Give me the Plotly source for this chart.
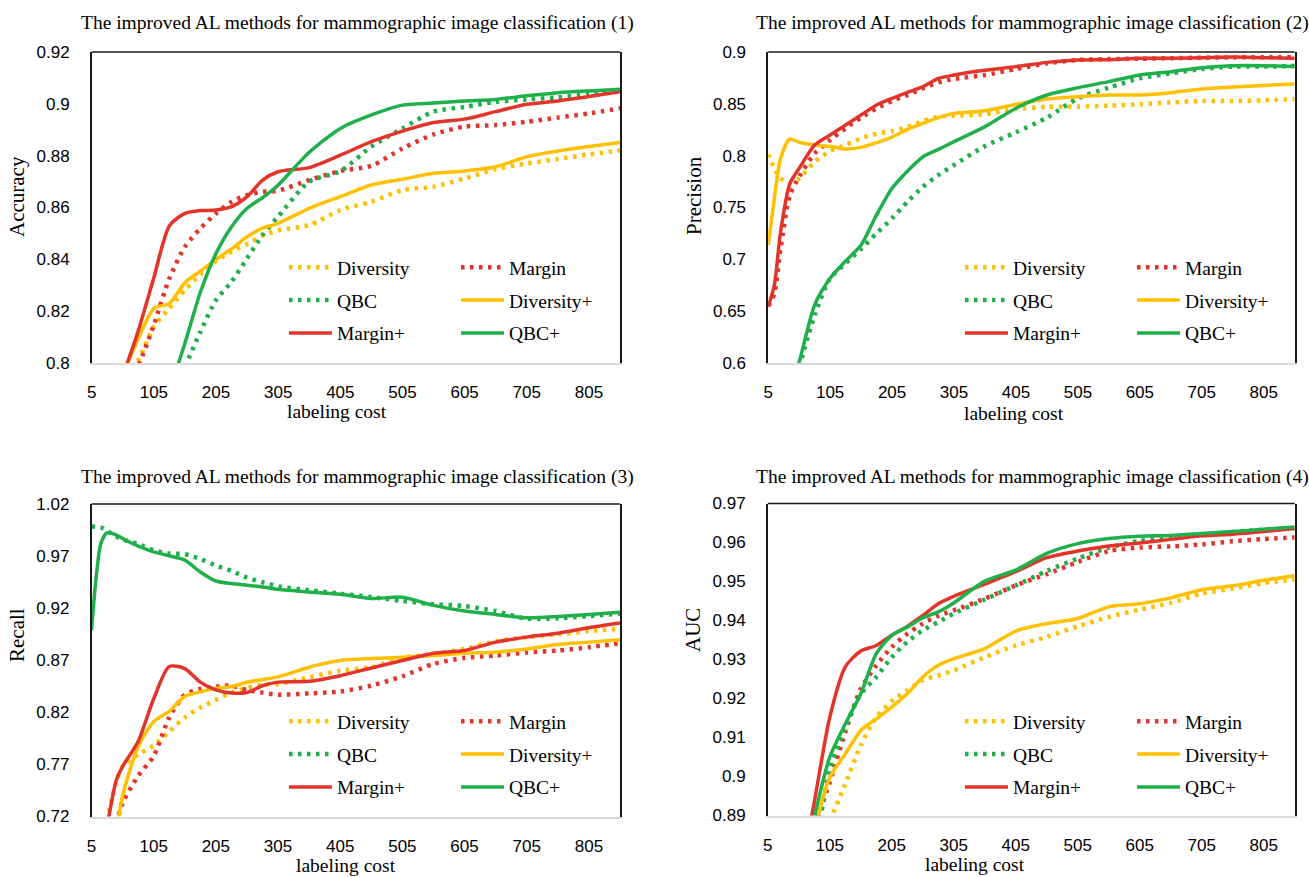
import plotly.graph_objects as go

# ---------------- data ----------------
names = ["Diversity", "Margin", "QBC", "Diversity+", "Margin+", "QBC+"]
x_ticks = [5, 105, 205, 305, 405, 505, 605, 705, 805]

# (1) Accuracy
x1 = [55, 80, 105, 130, 155, 180, 205, 230, 255, 280, 305, 355, 405, 455, 505, 555, 605, 655, 705, 755, 805, 855]
acc_diversity = [0.792, 0.801, 0.814, 0.8211, 0.8282, 0.8342, 0.8394, 0.843, 0.8459, 0.8491, 0.8512, 0.8532, 0.859, 0.8622, 0.8667, 0.868, 0.8712, 0.8748, 0.877, 0.8787, 0.8805, 0.882]
acc_margin = [0.787, 0.799, 0.8147, 0.8327, 0.8449, 0.852, 0.8577, 0.8622, 0.8648, 0.8661, 0.8665, 0.8706, 0.8741, 0.8761, 0.8828, 0.8882, 0.8912, 0.8918, 0.8931, 0.8947, 0.8963, 0.8983]
acc_qbc = [None, None, None, None, 0.7985, 0.8121, 0.8243, 0.8314, 0.8404, 0.8494, 0.8565, 0.870, 0.874, 0.8835, 0.8905, 0.897, 0.8988, 0.9008, 0.9017, 0.9025, 0.9037, 0.905]
acc_diversity_p = [0.795, 0.8095, 0.8211, 0.823, 0.831, 0.8355, 0.840, 0.844, 0.8487, 0.852, 0.8539, 0.8597, 0.8642, 0.8687, 0.8709, 0.8732, 0.8741, 0.8757, 0.8796, 0.8818, 0.8835, 0.8851]
acc_margin_p = [0.795, 0.8125, 0.833, 0.853, 0.8577, 0.8588, 0.859, 0.8603, 0.8642, 0.8706, 0.8738, 0.8754, 0.8802, 0.8854, 0.8895, 0.8928, 0.8941, 0.897, 0.8998, 0.9011, 0.9028, 0.9047]
acc_qbc_p = [None, None, None, 0.789, 0.8077, 0.8275, 0.8423, 0.8526, 0.8597, 0.8638, 0.8687, 0.8813, 0.8905, 0.8957, 0.8995, 0.9003, 0.9011, 0.9017, 0.9031, 0.9043, 0.905, 0.9056]

# (2) Precision
x2 = [5, 15, 25, 40, 55, 80, 105, 130, 155, 180, 205, 230, 255, 280, 305, 355, 405, 455, 505, 555, 605, 655, 705, 755, 805, 855]
pre_diversity = [0.8013, 0.7878, 0.7781, 0.7743, 0.7781, 0.7942, 0.8045, 0.8103, 0.8167, 0.8212, 0.8238, 0.8277, 0.8334, 0.8376, 0.8386, 0.8399, 0.845, 0.847, 0.8473, 0.8482, 0.8495, 0.8514, 0.8527, 0.8527, 0.8534, 0.8547]
pre_margin = [0.655, 0.6672, 0.7106, 0.762, 0.7797, 0.8022, 0.8151, 0.8264, 0.8367, 0.8457, 0.8527, 0.8585, 0.865, 0.8707, 0.874, 0.8778, 0.8836, 0.8891, 0.8923, 0.8932, 0.8935, 0.894, 0.8945, 0.8948, 0.895, 0.8948]
pre_qbc = [None, None, None, None, 0.596, 0.6463, 0.6817, 0.6961, 0.71, 0.7251, 0.7395, 0.7556, 0.7701, 0.7814, 0.791, 0.8093, 0.8225, 0.8367, 0.8553, 0.8656, 0.8746, 0.8794, 0.8836, 0.8859, 0.8859, 0.8865]
pre_diversity_p = [0.7138, 0.7588, 0.7974, 0.8161, 0.8129, 0.8103, 0.809, 0.8064, 0.808, 0.8125, 0.818, 0.8254, 0.8312, 0.8367, 0.8408, 0.8434, 0.8495, 0.8547, 0.8569, 0.8585, 0.8585, 0.8608, 0.8643, 0.8662, 0.8678, 0.8691]
pre_margin_p = [0.6543, 0.6752, 0.7267, 0.7733, 0.7878, 0.8103, 0.82, 0.8296, 0.8392, 0.8489, 0.8553, 0.8611, 0.8666, 0.8746, 0.8778, 0.8823, 0.8859, 0.89, 0.8923, 0.8926, 0.8939, 0.8939, 0.8945, 0.8952, 0.8945, 0.8939]
pre_qbc_p = [None, None, None, 0.575, 0.601, 0.656, 0.6817, 0.6984, 0.7138, 0.7428, 0.7685, 0.7852, 0.799, 0.8061, 0.8135, 0.828, 0.8457, 0.8585, 0.8656, 0.8714, 0.8778, 0.881, 0.8849, 0.8868, 0.8868, 0.8859]

# (3) Recall
x3 = [5, 12, 20, 30, 45, 55, 80, 105, 130, 155, 180, 205, 230, 255, 280, 305, 355, 405, 455, 505, 555, 605, 655, 705, 755, 805, 855]
rec_diversity = [None, None, None, 0.716, 0.754, 0.768, 0.7795, 0.788, 0.8015, 0.815, 0.8245, 0.832, 0.839, 0.8434, 0.8466, 0.8472, 0.8536, 0.86, 0.8633, 0.8723, 0.8761, 0.8809, 0.8883, 0.8922, 0.8948, 0.898, 0.9002]
rec_margin = [None, None, None, None, 0.713, 0.733, 0.759, 0.778, 0.815, 0.8369, 0.8424, 0.8446, 0.8456, 0.8414, 0.8389, 0.8369, 0.8382, 0.840, 0.8456, 0.8546, 0.8665, 0.8723, 0.8745, 0.8774, 0.8793, 0.8825, 0.8864]
rec_qbc = [0.9985, 0.998, 0.9975, 0.994, 0.9886, 0.986, 0.9815, 0.9757, 0.9725, 0.9718, 0.9673, 0.9609, 0.9558, 0.9494, 0.9449, 0.941, 0.9372, 0.9339, 0.9307, 0.9269, 0.9237, 0.922, 0.9172, 0.9099, 0.9102, 0.9124, 0.9147]
rec_diversity_p = [None, None, None, None, 0.705, 0.74, 0.787, 0.811, 0.821, 0.8353, 0.8398, 0.843, 0.8447, 0.8488, 0.8515, 0.854, 0.8633, 0.8697, 0.8716, 0.8729, 0.8745, 0.8768, 0.8777, 0.8809, 0.8851, 0.8874, 0.8896]
rec_margin_p = [None, None, None, 0.71, 0.755, 0.768, 0.792, 0.833, 0.864, 0.862, 0.849, 0.8415, 0.8385, 0.839, 0.8455, 0.849, 0.8498, 0.8552, 0.8626, 0.8697, 0.8768, 0.8793, 0.8874, 0.8922, 0.896, 0.9012, 0.9057]
rec_qbc_p = [0.899, 0.9468, 0.9821, 0.9924, 0.9902, 0.9869, 0.9796, 0.9741, 0.9702, 0.9661, 0.9548, 0.9461, 0.9436, 0.942, 0.9404, 0.9381, 0.9355, 0.9333, 0.9292, 0.9305, 0.9227, 0.9172, 0.914, 0.9108, 0.9121, 0.914, 0.916]

# (4) AUC
x4 = [55, 80, 105, 130, 155, 180, 205, 230, 255, 280, 305, 355, 405, 455, 505, 555, 605, 655, 705, 755, 805, 855]
auc_diversity = [None, None, 0.8886, 0.8981, 0.908, 0.9152, 0.9193, 0.9221, 0.9247, 0.9259, 0.9272, 0.9306, 0.9336, 0.9358, 0.9385, 0.9409, 0.9428, 0.9445, 0.9469, 0.9482, 0.9496, 0.9505]
auc_margin = [None, 0.887, 0.8986, 0.9114, 0.9225, 0.9285, 0.9332, 0.9366, 0.9392, 0.9412, 0.9426, 0.9456, 0.949, 0.9519, 0.955, 0.9578, 0.9587, 0.959, 0.9595, 0.9603, 0.9609, 0.9613]
auc_qbc = [None, 0.880, 0.9016, 0.9127, 0.9212, 0.9255, 0.9306, 0.9345, 0.9375, 0.9396, 0.9418, 0.9454, 0.949, 0.9527, 0.9559, 0.9587, 0.9604, 0.9613, 0.9619, 0.9627, 0.9633, 0.9636]
auc_diversity_p = [None, 0.886, 0.8998, 0.9058, 0.9118, 0.9148, 0.9178, 0.9212, 0.9255, 0.9285, 0.9302, 0.9328, 0.9373, 0.9392, 0.9405, 0.9435, 0.9443, 0.9458, 0.9479, 0.9489, 0.9503, 0.9515]
auc_margin_p = [0.872, 0.8934, 0.9152, 0.9281, 0.9322, 0.9336, 0.9362, 0.9385, 0.9413, 0.9443, 0.9462, 0.9493, 0.9525, 0.9561, 0.9578, 0.9591, 0.9599, 0.9608, 0.9617, 0.9621, 0.9628, 0.9636]
auc_qbc_p = [None, 0.8895, 0.905, 0.9135, 0.9212, 0.9315, 0.9362, 0.9383, 0.9407, 0.9422, 0.9445, 0.9501, 0.9529, 0.9572, 0.9597, 0.961, 0.9616, 0.9618, 0.9623, 0.9628, 0.9634, 0.964]

panels = [
    dict(title="The improved AL methods for mammographic image classification (1)", ylabel="Accuracy",
         x=x1, series=[acc_diversity, acc_margin, acc_qbc, acc_diversity_p, acc_margin_p, acc_qbc_p],
         yticks=[0.8, 0.82, 0.84, 0.86, 0.88, 0.9, 0.92], ytext=["0.8", "0.82", "0.84", "0.86", "0.88", "0.9", "0.92"]),
    dict(title="The improved AL methods for mammographic image classification (2)", ylabel="Precision",
         x=x2, series=[pre_diversity, pre_margin, pre_qbc, pre_diversity_p, pre_margin_p, pre_qbc_p],
         yticks=[0.6, 0.65, 0.7, 0.75, 0.8, 0.85, 0.9], ytext=["0.6", "0.65", "0.7", "0.75", "0.8", "0.85", "0.9"]),
    dict(title="The improved AL methods for mammographic image classification (3)", ylabel="Recall",
         x=x3, series=[rec_diversity, rec_margin, rec_qbc, rec_diversity_p, rec_margin_p, rec_qbc_p],
         yticks=[0.72, 0.77, 0.82, 0.87, 0.92, 0.97, 1.02], ytext=["0.72", "0.77", "0.82", "0.87", "0.92", "0.97", "1.02"]),
    dict(title="The improved AL methods for mammographic image classification (4)", ylabel="AUC",
         x=x4, series=[auc_diversity, auc_margin, auc_qbc, auc_diversity_p, auc_margin_p, auc_qbc_p],
         yticks=[0.89, 0.9, 0.91, 0.92, 0.93, 0.94, 0.95, 0.96, 0.97], ytext=["0.89", "0.9", "0.91", "0.92", "0.93", "0.94", "0.95", "0.96", "0.97"]),
]

# ---------------- styling / layout ----------------
W, H = 1309, 877
YELLOW, RED, GREEN = "#FFC000", "#E2342A", "#1FAF4B"
colors = [YELLOW, RED, GREEN, YELLOW, RED, GREEN]
dotted = [True, True, True, False, False, False]
legend_col = [0, 1, 0, 1, 0, 1]
SERIF = "Liberation Serif, Times New Roman, serif"
SANS = "Liberation Sans, Arial, sans-serif"

# plot boxes in pixels: left, right, top, bottom
boxes = [(91.75, 620.0, 52.0, 363.0), (768.2, 1294.7, 52.0, 363.0),
         (91.5, 620.0, 504.0, 816.5), (767.8, 1294.7, 503.5, 815.5)]
title_pos = [(357, 23), (1032, 23), (357, 477), (1032, 477)]
ylab_pos = [(17, 197), (694, 196), (17, 635), (693, 630)]
xlab_pos = [(337, 411), (1014, 413), (346, 865), (975, 864)]
legend_pos = [[(284, 248), (456, 248)], [(960, 248), (1132, 248)],
              [(284, 702), (456, 702)], [(960, 702), (1132, 702)]]

fig = go.Figure()
layout = dict(width=W, height=H, margin=dict(l=0, r=0, t=0, b=0, autoexpand=False),
              paper_bgcolor="white", plot_bgcolor="white", showlegend=True)
annotations = []
shapes = []

for k, p in enumerate(panels):
    i = k + 1
    sx = "" if i == 1 else str(i)
    l, r, t, b = boxes[k]
    yr = [p["yticks"][0], p["yticks"][-1]]
    layout["xaxis" + sx] = dict(domain=[l / W, r / W], range=[5, 855], anchor="y" + sx,
                                tickmode="array", tickvals=x_ticks, ticktext=[str(v) for v in x_ticks],
                                showgrid=False, zeroline=False, showline=True, linecolor="#D9D9D9",
                                linewidth=1.5, ticks="", ticklabelstandoff=13, automargin=False,
                                tickfont=dict(family=SANS, size=17, color="black"))
    layout["yaxis" + sx] = dict(domain=[1 - b / H, 1 - t / H], range=yr, anchor="x" + sx,
                                tickmode="array", tickvals=p["yticks"], ticktext=p["ytext"],
                                showgrid=False, zeroline=False, showline=True, linecolor="#1a1a1a",
                                linewidth=1.5, mirror=True, ticks="", ticklabelstandoff=17, automargin=False,
                                tickfont=dict(family=SANS, size=17, color="black"))
    shapes.append(dict(type="line", xref="x" + sx + " domain", yref="y" + sx + " domain",
                       x0=0, x1=1, y0=1, y1=1, line=dict(color="#1a1a1a", width=1.5), layer="above"))
    annotations.append(dict(text=p["title"], x=title_pos[k][0] / W, y=1 - title_pos[k][1] / H,
                            xref="paper", yref="paper", showarrow=False, xanchor="center", yanchor="middle",
                            font=dict(family=SERIF, size=19.5, color="black")))
    annotations.append(dict(text=p["ylabel"], x=ylab_pos[k][0] / W, y=1 - ylab_pos[k][1] / H,
                            xref="paper", yref="paper", showarrow=False, textangle=-90,
                            xanchor="center", yanchor="middle",
                            font=dict(family=SERIF, size=21, color="black")))
    annotations.append(dict(text="labeling cost", x=xlab_pos[k][0] / W, y=1 - xlab_pos[k][1] / H,
                            xref="paper", yref="paper", showarrow=False, xanchor="center", yanchor="middle",
                            font=dict(family=SERIF, size=19.5, color="black")))
    for c in range(2):
        ln = 2 * k + c + 1
        lname = "legend" if ln == 1 else "legend" + str(ln)
        lx, ly = legend_pos[k][c]
        layout[lname] = dict(x=lx / W, y=1 - ly / H, xref="paper", yref="paper",
                             xanchor="left", yanchor="top", orientation="v",
                             bgcolor="rgba(0,0,0,0)", borderwidth=0, itemwidth=43,
                             tracegroupgap=4.5, traceorder="grouped",
                             font=dict(family=SERIF, size=19.5, color="black"))
    for j, ys in enumerate(p["series"]):
        ln = 2 * k + legend_col[j] + 1
        lname = "legend" if ln == 1 else "legend" + str(ln)
        fig.add_trace(go.Scatter(
            x=p["x"], y=ys, mode="lines", name=names[j],
            xaxis="x" + sx, yaxis="y" + sx, legend=lname, legendgroup=f"p{i}_{j}",
            line=dict(color=colors[j], width=4.5 if dotted[j] else 3.5,
                      dash="3.5px,5.5px" if dotted[j] else "solid", shape="spline", smoothing=0.7),
            hoverinfo="skip"))

layout["annotations"] = annotations
layout["shapes"] = shapes
fig.update_layout(**layout)
fig.write_html("out.html", config={"displayModeBar": False},
               post_script="document.body.style.margin='0px';"
                           "document.documentElement.style.overflow='hidden';")
